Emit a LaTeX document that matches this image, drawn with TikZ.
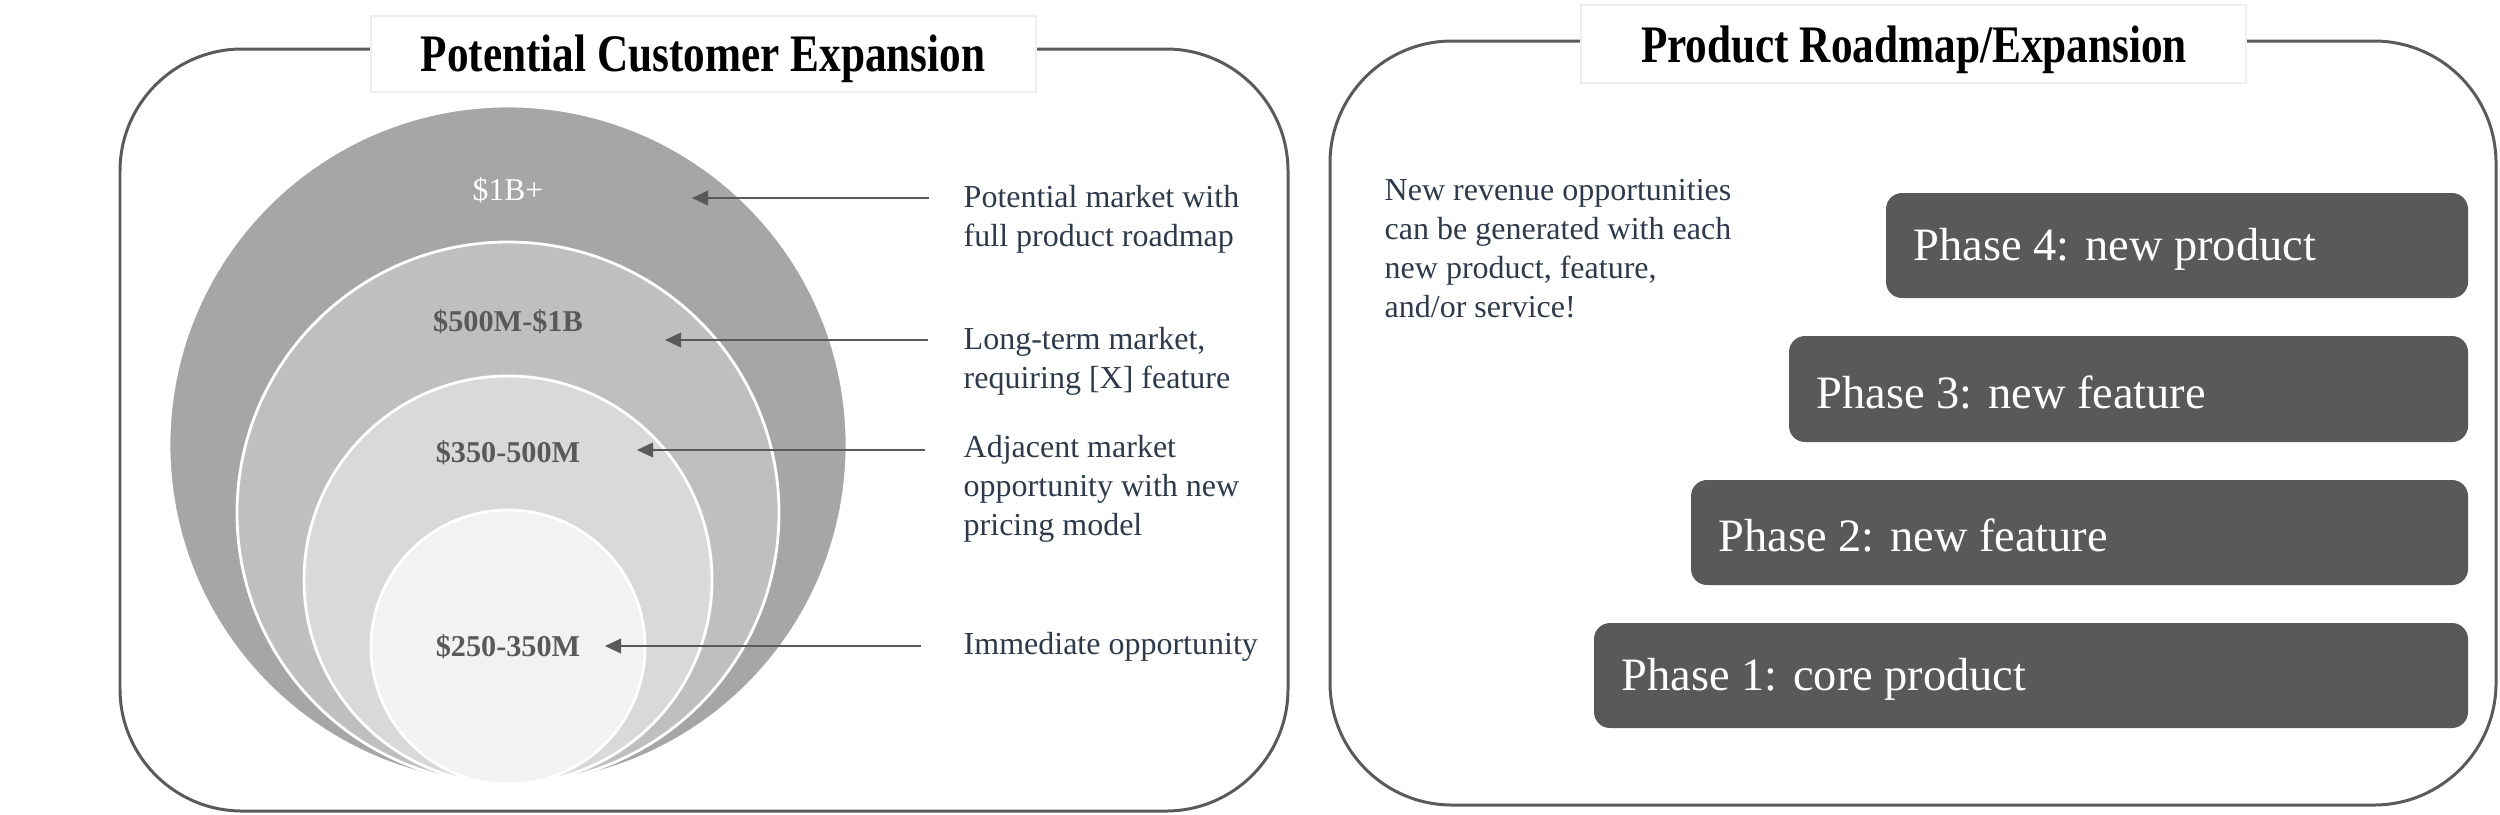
\documentclass[tikz,border=0pt]{standalone}
\usepackage{fontspec}
\setmainfont{Liberation Serif}
\newfontfamily\titlefont[FakeStretch=0.82]{Liberation Serif}
\usetikzlibrary{arrows.meta}
\definecolor{panelline}{HTML}{5A5A5A}
\definecolor{cA}{HTML}{A6A6A6}
\definecolor{cB}{HTML}{BFBFBF}
\definecolor{cC}{HTML}{D9D9D9}
\definecolor{cD}{HTML}{F2F2F2}
\definecolor{desc}{HTML}{2E3A4B}
\definecolor{lbl}{HTML}{595959}
\definecolor{phasefill}{HTML}{595959}
\definecolor{titleedge}{HTML}{EEEEEE}
\tikzset{
  panel/.style={draw=panelline, line width=0.85pt, rounded corners=1.22cm},
  titlebox/.style={fill=white, draw=titleedge, line width=0.4pt},
  titletext/.style={font=\titlefont\fontsize{15}{18}\selectfont\bfseries, text=black},
  ringlabel/.style={font=\fontsize{8.6}{10}\selectfont\bfseries, text=lbl},
  desctext/.style={font=\fontsize{9.1}{11.1}\selectfont, text=desc, align=left, anchor=west, inner sep=0pt},
  pointer/.style={draw=lbl, line width=0.55pt, -{Triangle[length=4.6pt, width=4.2pt]}},
  phasebox/.style={fill=phasefill, rounded corners=0.16cm},
  phasetext/.style={font=\fontsize{13.2}{15}\selectfont, text=white, anchor=west, inner sep=0pt}
}
\begin{document}
\begin{tikzpicture}[x=0.01cm, y=-0.01cm]
\useasboundingbox (0,0) rectangle (2500,814);

% ---------- left panel ----------
\draw[panel] (120,49) rectangle (1288,811);
\draw[titlebox] (371,16) rectangle (1036,92);
\node[titletext] (ltitle) at (703,59) {Potential Customer Expansion};

\fill[cA] (508,445) circle (339);
\fill[cB] (508,513) circle (271);
\fill[cC] (508,580) circle (204);
\fill[cD] (508,647) circle (137);
\draw[white, line width=0.8pt] (508,445) circle (339);
\draw[white, line width=0.8pt] (508,513) circle (271);
\draw[white, line width=0.8pt] (508,580) circle (204);
\draw[white, line width=0.8pt] (508,647) circle (137);

\node[font=\fontsize{9}{10}\selectfont, text=white] (l1) at (508,190) {\$1B+};
\node[ringlabel] (l2) at (508,322) {\$500M-\$1B};
\node[ringlabel] (l3) at (508,453) {\$350-500M};
\node[ringlabel] (l4) at (508,647) {\$250-350M};

\node[desctext] (d1) at (963,219) {Potential market with\\full product roadmap};
\node[desctext] (d2) at (963,361) {Long-term market,\\requiring [X] feature};
\node[desctext] (d3) at (963,489) {Adjacent market\\opportunity with new\\pricing model};
\node[desctext] (d4) at (963,647) {Immediate opportunity};

\coordinate (a1s) at (929,198); \coordinate (a1e) at (692,198);
\coordinate (a2s) at (928,340); \coordinate (a2e) at (665,340);
\coordinate (a3s) at (925,450); \coordinate (a3e) at (637,450);
\coordinate (a4s) at (921,646); \coordinate (a4e) at (605,646);
\draw[pointer] (a1s) -- (a1e);
\draw[pointer] (a2s) -- (a2e);
\draw[pointer] (a3s) -- (a3e);
\draw[pointer] (a4s) -- (a4e);

% ---------- right panel ----------
\draw[panel] (1330,41) rectangle (2496,805);
\draw[titlebox] (1581,5) rectangle (2246,83);
\node[titletext] (rtitle) at (1914,50) {Product Roadmap/Expansion};

\node[desctext] (rdesc) at (1384,249) {New revenue opportunities\\can be generated with each\\new product, feature,\\and/or service!};

\fill[phasebox] (1886,193) rectangle (2468,298);
\fill[phasebox] (1789,336) rectangle (2468,442);
\fill[phasebox] (1691,480) rectangle (2468,585);
\fill[phasebox] (1594,623) rectangle (2468,728);
\node[phasetext] (p4) at (1913,249) {Phase 4: new product};
\node[phasetext] (p3) at (1816,392) {Phase 3: new feature};
\node[phasetext] (p2) at (1718,535) {Phase 2: new feature};
\node[phasetext] (p1) at (1621,679) {Phase 1: core product};
\end{tikzpicture}
\end{document}
